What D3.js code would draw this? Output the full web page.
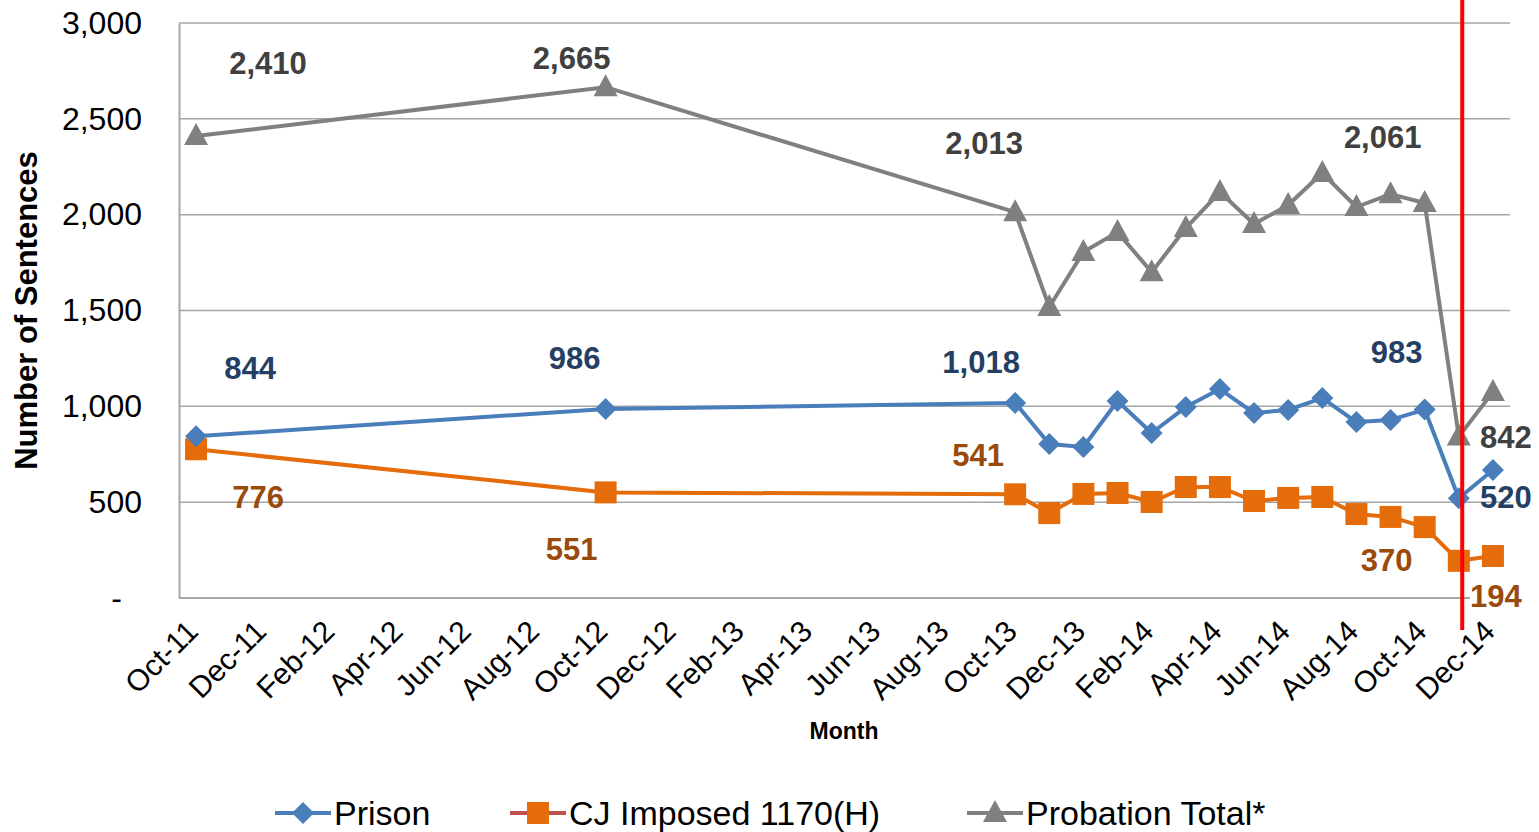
<!DOCTYPE html>
<html>
<head>
<meta charset="utf-8">
<script src="https://cdn.jsdelivr.net/npm/d3@7"></script>
<style>
    body { margin: 0; background: #ffffff; }
    svg { display: block; font-family: "Liberation Sans", Arial, sans-serif; }
</style>
</head>
<body>
<div id="chart"></div>
<script>
// months with data, first month of the axis is Oct-11
var months = ["Oct-11", "Oct-12", "Oct-13", "Nov-13", "Dec-13", "Jan-14", "Feb-14", "Mar-14", "Apr-14",
    "May-14", "Jun-14", "Jul-14", "Aug-14", "Sep-14", "Oct-14", "Nov-14", "Dec-14"];

var prison = [844, 986, 1018, 803, 788, 1028, 861, 996, 1090, 965, 981, 1043, 918, 929, 983, 520, 668];
var cjImposed = [776, 551, 541, 443, 543, 548, 501, 579, 579, 506, 522, 527, 438, 423, 370, 194, 219];
var probation = [2410, 2665, 2013, 1518, 1805, 1909, 1700, 1930, 2118, 1951, 2050, 2217, 2040, 2107, 2061, 842, 1075];

var yTicks = [0, 500, 1000, 1500, 2000, 2500, 3000];
var monthNames = ["Jan", "Feb", "Mar", "Apr", "May", "Jun", "Jul", "Aug", "Sep", "Oct", "Nov", "Dec"];

// which points carry a value label
var labelled = ["Oct-11", "Oct-12", "Oct-13", "Oct-14", "Nov-14"];

var width = 1539;
var height = 832;

function monthIndex(s) {
    var p = s.split("-");
    return (+p[1] - 11) * 12 + monthNames.indexOf(p[0]) - 9;
}
function monthLabel(i) {
    var m = i + 9;
    return monthNames[m % 12] + "-" + (11 + Math.floor(m / 12));
}

var x = d3.scaleLinear().domain([-0.5, 38.5]).range([179, 1510]);
var y = d3.scaleLinear().domain([0, 3000]).range([598, 23]);

var svg = d3.select("#chart").append("svg")
    .attr("width", width)
    .attr("height", height);

// gridlines
svg.append("g")
    .selectAll("line")
    .data(yTicks.slice(1))
    .enter().append("line")
    .attr("x1", x.range()[0])
    .attr("x2", x.range()[1])
    .attr("y1", d => y(d))
    .attr("y2", d => y(d))
    .attr("stroke", "#a6a6a6")
    .attr("stroke-width", 1.5);

// y axis
var yAxis = svg.append("g")
    .attr("transform", "translate(" + x.range()[0] + ",0)")
    .call(d3.axisLeft(y).tickValues(yTicks).tickSize(0).tickPadding(37)
        .tickFormat(v => v === 0 ? "-" : d3.format(",")(v)));
yAxis.select(".domain").attr("stroke", "#a6a6a6").attr("stroke-width", 2);
yAxis.selectAll("text")
    .attr("font-size", 32)
    .attr("fill", "#000")
    .attr("font-family", "Liberation Sans, Arial, sans-serif")
    .filter(d => d === 0)
    .attr("dx", -20);

// x axis
var xAxis = svg.append("g")
    .attr("transform", "translate(0," + y(0) + ")")
    .call(d3.axisBottom(x).tickValues(d3.range(0, 39, 2)).tickSize(0).tickFormat(monthLabel));
xAxis.select(".domain").attr("stroke", "#a6a6a6").attr("stroke-width", 2)
    .attr("d", "M" + x.range()[0] + ",0H" + x.range()[1]);
xAxis.selectAll("text")
    .attr("font-size", 30)
    .attr("fill", "#000")
    .attr("font-family", "Liberation Sans, Arial, sans-serif")
    .attr("text-anchor", "end")
    .attr("dy", 0)
    .attr("transform", "translate(1,33) rotate(-45)");

// axis titles
svg.append("text")
    .attr("transform", "translate(37," + y(1500) + ") rotate(-90)")
    .attr("text-anchor", "middle")
    .attr("font-size", 31)
    .attr("font-weight", "bold")
    .text("Number of Sentences");

svg.append("text")
    .attr("x", 844)
    .attr("y", 739)
    .attr("text-anchor", "middle")
    .attr("font-size", 23)
    .attr("font-weight", "bold")
    .text("Month");

var series = [
    {name: "Prison", values: prison, color: "#4a7ebb", legendLine: "#4a7ebb", labelColor: "#253f64", shape: "diamond",
        offsets: [[54, -57], [-31, -40], [-34, -30], [-28, -47], [47, 10]]},
    {name: "CJ Imposed 1170(H)", values: cjImposed, color: "#e46c0a", legendLine: "#c0504d", labelColor: "#9a4b0c", shape: "square",
        offsets: [[62, 59], [-34, 68], [-37, -28], [-38, 44], [37, 46]]},
    {name: "Probation Total*", values: probation, color: "#808080", legendLine: "#808080", labelColor: "#404040", shape: "triangle",
        offsets: [[72, -62], [-34, -18], [-31, -58], [-42, -55], [47, 11]]}
];

function marker(sel, shape, color) {
    if (shape === "diamond") {
        sel.append("path").attr("d", "M0,-11L11,0L0,11L-11,0Z").attr("fill", color);
    } else if (shape === "square") {
        sel.append("rect").attr("x", -11).attr("y", -11).attr("width", 22).attr("height", 22).attr("fill", color);
    } else {
        sel.append("path").attr("d", "M0,-13L12,9L-12,9Z").attr("fill", color);
    }
}

var line = d3.line()
    .x((d, i) => x(monthIndex(months[i])))
    .y(d => y(d));

// draw probation first so prison / cj sit on top
series.slice().reverse().forEach(function(s) {
    var g = svg.append("g");
    g.append("path")
        .attr("d", line(s.values))
        .attr("fill", "none")
        .attr("stroke", s.color)
        .attr("stroke-width", 4)
        .attr("stroke-linejoin", "round");
    g.selectAll("g.pt")
        .data(s.values)
        .enter().append("g")
        .attr("class", "pt")
        .attr("transform", (d, i) => "translate(" + x(monthIndex(months[i])) + "," + y(d) + ")")
        .each(function() { marker(d3.select(this), s.shape, s.color); });
});

// red divider
var dividerMonth = 37.1;
svg.append("line")
    .attr("x1", x(dividerMonth))
    .attr("x2", x(dividerMonth))
    .attr("y1", 0)
    .attr("y2", 630)
    .attr("stroke", "#ff0000")
    .attr("stroke-width", 4);

// value labels
series.forEach(function(s) {
    labelled.forEach(function(m, k) {
        var i = months.indexOf(m);
        var v = s.values[i];
        var t = svg.append("text")
            .attr("x", x(monthIndex(m)) + s.offsets[k][0])
            .attr("y", y(v) + s.offsets[k][1])
            .attr("text-anchor", "middle")
            .attr("font-size", 31)
            .attr("font-weight", "bold")
            .attr("fill", s.labelColor)
            .text(d3.format(",")(v));
        if (s.shape === "square" && m === "Nov-14") {
            var b = t.node().getBBox();
            svg.insert("rect", function() { return t.node(); })
                .attr("x", b.x).attr("y", b.y).attr("width", b.width + 16).attr("height", b.height)
                .attr("fill", "#fff");
        }
    });
});

// legend
var legendX = [275, 510, 967];
var legend = svg.append("g");
series.forEach(function(s, i) {
    var g = legend.append("g").attr("transform", "translate(" + legendX[i] + ",813)");
    g.append("line").attr("x1", 0).attr("x2", 56).attr("stroke", s.legendLine).attr("stroke-width", 4);
    marker(g.append("g").attr("transform", "translate(28,0)"), s.shape, s.color);
    g.append("text")
        .attr("x", 59)
        .attr("y", 12)
        .attr("font-size", 34)
        .attr("fill", "#000")
        .text(s.name);
});
</script>
</body>
</html>
